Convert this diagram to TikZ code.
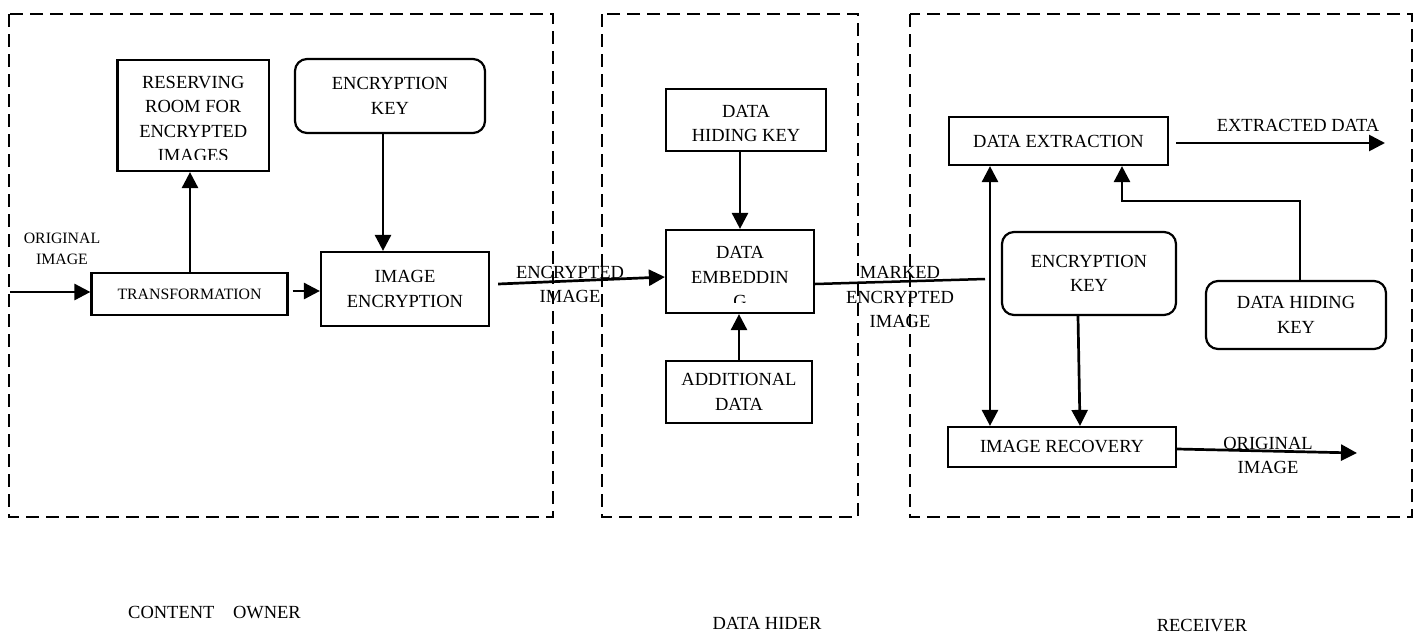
\documentclass[tikz,border=0pt]{standalone}
\usepackage{fontspec}
\setmainfont{Liberation Serif}
\usetikzlibrary{arrows.meta}
\begin{document}
\begin{tikzpicture}[x=1pt,y=-1pt,
  box/.style={draw,line width=2.2pt,inner sep=0pt,align=center,font=\fontsize{18.5}{24.5}\selectfont},
  rbox/.style={box,rounded corners=12pt},
  lbl/.style={inner sep=0pt,align=center,font=\fontsize{18.5}{24.5}\selectfont},
  slbl/.style={inner sep=0pt,align=center,font=\fontsize{15.8}{21}\selectfont},
  arr/.style={line width=2.7pt,-{Triangle[length=16pt,width=16pt]}},
  darr/.style={line width=2.7pt,{Triangle[length=16pt,width=16pt]}-{Triangle[length=16pt,width=16pt]}},
  ln/.style={line width=2.5pt},
  zone/.style={line width=1.8pt,dash pattern=on 13pt off 7pt}]
\useasboundingbox[fill=white] (0,0) rectangle (1422,635);

% zones
\draw[zone] (9,14) rectangle (553,517);
\draw[zone] (602,14) rectangle (858,517);
\draw[zone] (910,14) rectangle (1412,517);

% content owner
\node[box,minimum width=151.5pt,minimum height=111pt] (res) at (193.25,115.5) {};
\begin{scope}
\clip (117.5,60) rectangle (269,159);
\node[lbl] (rest) at (193.25,119) {RESERVING\\ROOM FOR\\ENCRYPTED\\IMAGES};
\end{scope}
\node[rbox,minimum width=190pt,minimum height=74pt] (ek1) at (390,96) {ENCRYPTION\\KEY};
\node[box,font=\fontsize{15.8}{21}\selectfont,minimum width=196pt,minimum height=42pt] (tr) at (189.5,294) {TRANSFORMATION};
\node[box,minimum width=168pt,minimum height=74pt] (ie) at (405,289) {IMAGE\\ENCRYPTION};
\node[slbl] (oil) at (62,248.5) {ORIGINAL\\IMAGE};

% data hider
\node[box,minimum width=160pt,minimum height=62pt] (dhk) at (746,120) {};
\begin{scope}
\clip (666,89) rectangle (826,141);
\node[lbl] (dhkt) at (746,123.5) {DATA\\HIDING KEY};
\end{scope}
\node[box,minimum width=148pt,minimum height=83pt] (de) at (740,271.5) {};
\begin{scope}
\clip (666,230) rectangle (814,302);
\node[lbl] (det) at (740,277) {DATA\\EMBEDDIN\\G};
\end{scope}
\node[box,minimum width=146pt,minimum height=62pt] (ad) at (739,392) {ADDITIONAL\\DATA};

% receiver
\node[box,minimum width=219pt,minimum height=48pt] (dx) at (1058.5,141) {DATA EXTRACTION};
\node[rbox,minimum width=174pt,minimum height=83pt] (ek2) at (1089,273.5) {ENCRYPTION\\KEY};
\node[rbox,minimum width=180pt,minimum height=68pt] (dhk2) at (1296,315) {DATA HIDING\\KEY};
\node[box,minimum width=228pt,minimum height=40pt] (ir) at (1062,447) {IMAGE RECOVERY};

% labels
\node[lbl] (encl) at (570,284.5) {ENCRYPTED\\IMAGE};
\node[lbl] (markl) at (900,297) {MARKED\\ENCRYPTED\\IMAGE};
\node[lbl] (xdl) at (1298,125) {EXTRACTED DATA};
\node[lbl] (oil2) at (1268,455.5) {ORIGINAL\\IMAGE};
\node[lbl] (co) at (214.5,613) {CONTENT\quad OWNER};
\node[lbl] (dh) at (767,623) {DATA HIDER};
\node[lbl] (rc) at (1202,626) {RECEIVER};

% coordinates
\coordinate (inL) at (10,292);
\coordinate (mk) at (985,279);
\coordinate (xd) at (1385,143);
\coordinate (bend) at (1122,201);
\coordinate (oo) at (1357,453);

% connectors
\draw[arr] (inL) -- (inL -| tr.west);
\draw[arr] ([xshift=0.5pt]tr.north) -- ([xshift=0.5pt]tr.north |- res.south);
\draw[arr] ([xshift=4pt,yshift=3pt]tr.east) -- ([yshift=3pt]tr.east -| ie.west);
\draw[arr] ([xshift=-7pt]ek1.south) -- ([xshift=-7pt]ek1.south |- ie.north);
\draw[arr] ([xshift=8pt,yshift=5pt]ie.east) -- ([yshift=-5.5pt]de.west);
\draw[arr] ([xshift=-6pt]dhk.south) -- ([xshift=-6pt]dhk.south |- de.north);
\draw[arr] (ad.north) -- (ad.north |- de.south);
\draw[ln] ([yshift=-12.5pt]de.east) -- (mk);
\draw[arr] ([xshift=7pt,yshift=-2pt]dx.east) -- (xd);
\draw[darr] ([xshift=-68.5pt]dx.south) -- ([xshift=-68.5pt]dx.south |- ir.north);
\draw[arr] ([xshift=-11pt]ek2.south) -- ([xshift=18pt]ir.north);
\draw[arr] ([xshift=4pt]dhk2.north) |- (bend) -- (bend |- dx.south);
\draw[arr] ([yshift=-2pt]ir.east) -- (oo);
\end{tikzpicture}
\end{document}
